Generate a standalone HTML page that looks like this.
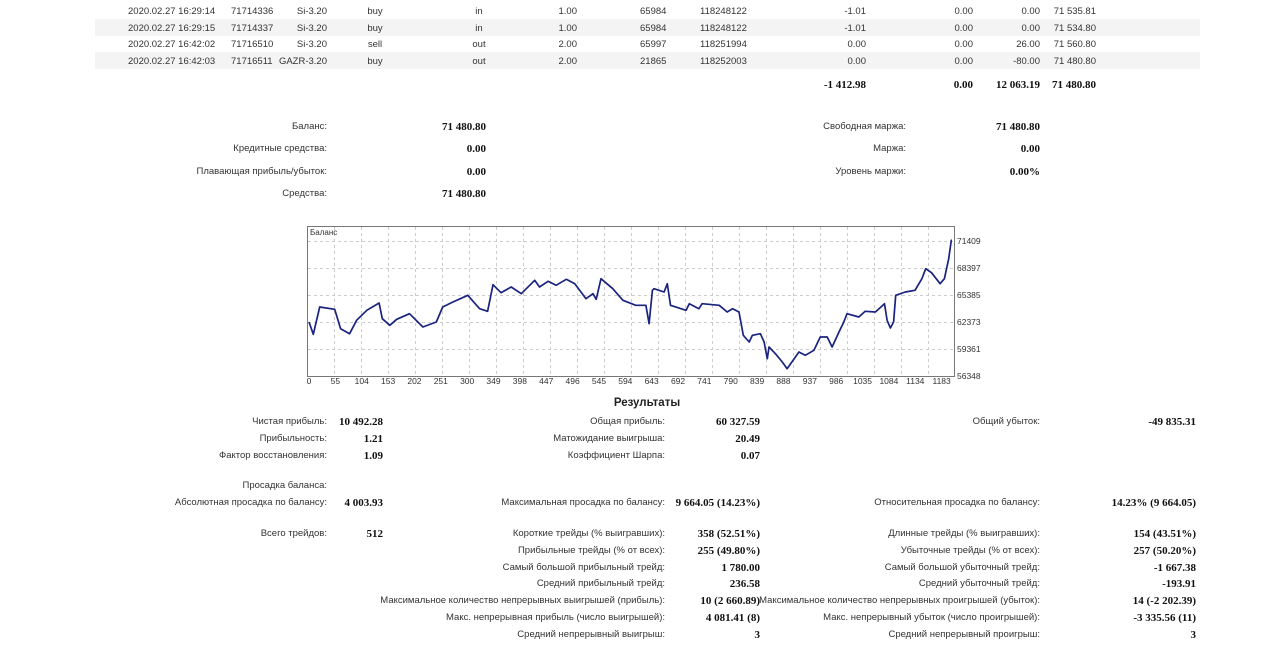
<!DOCTYPE html>
<html><head><meta charset="utf-8"><style>
body{margin:0;width:1280px;height:651px;background:#fff;position:relative;overflow:hidden;font-family:"Liberation Sans","DejaVu Sans",sans-serif;font-size:9.5px;color:#333}
.t{position:absolute;line-height:14px;white-space:nowrap}
.b{font-family:"Liberation Serif",serif;font-weight:bold;font-size:11px;color:#111}
.row{position:absolute;left:95px;width:1105px;height:17px}
.sh{background:#f4f4f4}
</style></head><body>
<div class="row sh" style="top:19px"></div>
<div class="row sh" style="top:52px"></div>
<div id="deals"></div>
<div id="summary"></div>
<svg id="chart" style="position:absolute;left:0;top:0" width="1280" height="400"></svg>
<div class="t" style="left:547px;top:396px;width:200px;text-align:center;font-weight:bold;font-size:11.5px;color:#222">Результаты</div>
<script>
const trades=[0,8,20,48,59,76,89,108,131,137,151,164,188,213,238,250,269,297,319,334,344,359,378,397,422,431,447,462,481,497,518,531,537,546,568,587,611,630,636,642,645,664,670,676,705,711,729,735,767,782,792,804,812,823,829,844,851,857,860,872,885,894,903,916,928,944,956,969,978,991,1000,1006,1028,1040,1059,1076,1081,1087,1093,1097,1115,1133,1146,1153,1164,1180,1188,1196,1201,1202];
const balance=[62372,61004,64046,63790,61625,61067,62562,63677,64492,62740,62000,62673,63298,61815,62372,64046,64604,65351,63856,63566,66534,65640,66277,65530,67025,66277,66913,66467,67136,66646,64971,65530,64904,67203,66087,64793,64235,64235,62183,65909,66087,65719,66646,64235,63677,64414,63856,64414,64235,63488,63856,63488,60888,60141,60888,61067,60141,58278,59583,58836,57910,57163,57910,59026,58657,59215,60699,60699,59583,61257,62372,63298,62930,63566,63488,64414,62562,61703,62372,65351,65719,65909,67203,68318,67873,66646,67203,69434,71486,71481];
const yTicks=[56348,59361,62373,65385,68397,71409];
const xTicks=[0,55,104,153,202,251,300,349,398,447,496,545,594,643,692,741,790,839,888,937,986,1035,1084,1134,1183];
const NS='http://www.w3.org/2000/svg';
const svg=document.getElementById('chart');
const X=t=>309+t*(632.7/1183);
const Y=v=>376-(v-56348)*(135/(71409-56348));
function mk(tag,a){const e=document.createElementNS(NS,tag);for(const k in a)e.setAttribute(k,a[k]);svg.appendChild(e);return e;}
let r=mk('rect',{x:307.5,y:226.5,width:647,height:150,fill:'#fff',stroke:'#777','stroke-width':1});


for(let gx=334;gx<954;gx+=27){let l=mk('line',{x1:gx+.5,x2:gx+.5,y1:227,y2:376,stroke:'#ccc','stroke-dasharray':'3,3'});

}
yTicks.forEach(v=>{const y=Math.round(Y(v))+.5;
if(v!==yTicks[0]){let l=mk('line',{x1:308,x2:954,y1:y,y2:y,stroke:'#ccc','stroke-dasharray':'3,3'});

}
let t=mk('text',{x:957,y:Y(v)+3,'font-size':8.5,fill:'#333','font-family':'Liberation Sans, sans-serif'});t.textContent=v;

});
xTicks.forEach((v,i)=>{let t=mk('text',{x:309+i*26.36,y:384,'font-size':8.5,fill:'#333','text-anchor':'middle','font-family':'Liberation Sans, sans-serif'});t.textContent=v;

});
let lab=mk('text',{x:310,y:235,'font-size':8,fill:'#333','font-family':'Liberation Sans, sans-serif'});lab.textContent='Баланс';


let pts=trades.map((t,i)=>X(t).toFixed(1)+','+Y(balance[i]).toFixed(1)).join(' ');
let pl=mk('polyline',{points:pts,fill:'none',stroke:'#1a237e','stroke-width':1.7,'stroke-linejoin':'round'});



function txt(parent,s,x,y,align,bold,name){const d=document.createElement('div');d.className='t'+(bold?' b':'');d.textContent=s;d.style.top=(y-6)+'px';
if(align==='r'){d.style.right=(1280-x)+'px';}else if(align==='c'){d.style.left=(x-60)+'px';d.style.width='120px';d.style.textAlign='center';}else d.style.left=x+'px';


parent.appendChild(d);}
const deals=document.getElementById('deals');
const rows=[['2020.02.27 16:29:14','71714336','Si-3.20','buy','in','1.00','65984','118248122','-1.01','0.00','0.00','71 535.81'],
['2020.02.27 16:29:15','71714337','Si-3.20','buy','in','1.00','65984','118248122','-1.01','0.00','0.00','71 534.80'],
['2020.02.27 16:42:02','71716510','Si-3.20','sell','out','2.00','65997','118251994','0.00','0.00','26.00','71 560.80'],
['2020.02.27 16:42:03','71716511','GAZR-3.20','buy','out','2.00','21865','118252003','0.00','0.00','-80.00','71 480.80']];
const cols=[[128,'l'],[231,'l'],[327,'r'],[375,'c'],[479,'c'],[577,'r'],[640,'l'],[700,'l'],[866,'r'],[973,'r'],[1040,'r'],[1096,'r']];
rows.forEach((r,i)=>r.forEach((s,j)=>txt(deals,s,cols[j][0],11+i*16.7,cols[j][1],false,'deal-cell')));
[['-1 412.98',866],['0.00',973],['12 063.19',1040],['71 480.80',1096]].forEach(a=>txt(deals,a[0],a[1],84,'r',true,'total-cell'));
const sm=document.getElementById('summary');
const L=(s,x,y)=>txt(sm,s,x,y,'r',false,'summary-label');
const V=(s,x,y)=>txt(sm,s,x,y,'r',true,'summary-value');
[['Баланс:','71 480.80',126],['Кредитные средства:','0.00',148],['Плавающая прибыль/убыток:','0.00',171],['Средства:','71 480.80',193]].forEach(a=>{L(a[0],327,a[2]);V(a[1],486,a[2]);});
[['Свободная маржа:','71 480.80',126],['Маржа:','0.00',148],['Уровень маржи:','0.00%',171]].forEach(a=>{L(a[0],906,a[2]);V(a[1],1040,a[2]);});
[['Чистая прибыль:','10 492.28',421],['Прибыльность:','1.21',438],['Фактор восстановления:','1.09',455],['Просадка баланса:','',485],['Абсолютная просадка по балансу:','4 003.93',502],['Всего трейдов:','512',533]].forEach(a=>{L(a[0],327,a[2]);if(a[1])V(a[1],383,a[2]);});
[['Общая прибыль:','60 327.59',421],['Матожидание выигрыша:','20.49',438],['Коэффициент Шарпа:','0.07',455],['Максимальная просадка по балансу:','9 664.05 (14.23%)',502],['Короткие трейды (% выигравших):','358 (52.51%)',533],['Прибыльные трейды (% от всех):','255 (49.80%)',550],['Самый большой прибыльный трейд:','1 780.00',567],['Средний прибыльный трейд:','236.58',583],['Максимальное количество непрерывных выигрышей (прибыль):','10 (2 660.89)',600],['Макс. непрерывная прибыль (число выигрышей):','4 081.41 (8)',617],['Средний непрерывный выигрыш:','3',634]].forEach(a=>{L(a[0],665,a[2]);V(a[1],760,a[2]);});
[['Общий убыток:','-49 835.31',421],['Относительная просадка по балансу:','14.23% (9 664.05)',502],['Длинные трейды (% выигравших):','154 (43.51%)',533],['Убыточные трейды (% от всех):','257 (50.20%)',550],['Самый большой убыточный трейд:','-1 667.38',567],['Средний убыточный трейд:','-193.91',583],['Максимальное количество непрерывных проигрышей (убыток):','14 (-2 202.39)',600],['Макс. непрерывный убыток (число проигрышей):','-3 335.56 (11)',617],['Средний непрерывный проигрыш:','3',634]].forEach(a=>{L(a[0],1040,a[2]);V(a[1],1196,a[2]);});
</script>
</body></html>
